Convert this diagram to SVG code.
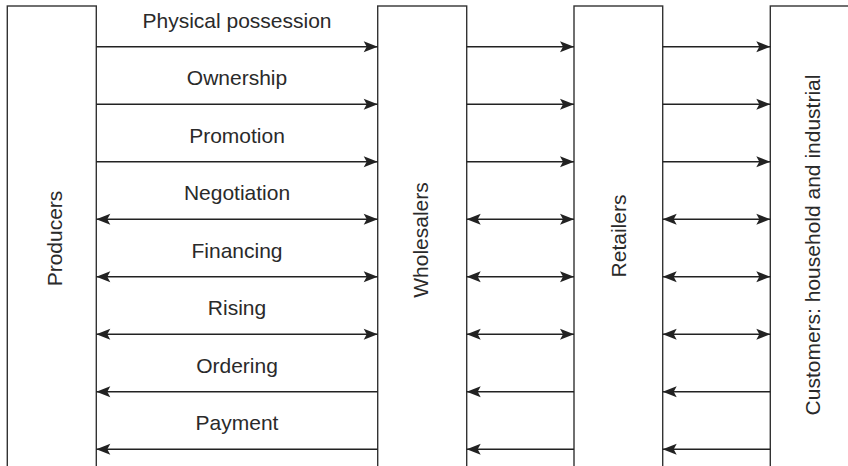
<svg xmlns="http://www.w3.org/2000/svg" width="848" height="466" viewBox="0 0 848 466">
<style>
.box{fill:#fff;stroke:#333;stroke-width:1.4}
.ln{stroke:#222;stroke-width:1.4;fill:none}
.r{marker-end:url(#ah)}
.b{marker-start:url(#ah);marker-end:url(#ah)}
.lbl{font-family:"Liberation Sans",Arial,sans-serif;font-size:21px;fill:#2a2a2a;text-anchor:middle}
</style>
<defs>
<marker id="ah" markerUnits="userSpaceOnUse" viewBox="-15 -6 16 12" refX="0" refY="0" markerWidth="16" markerHeight="12" orient="auto-start-reverse">
<path d="M0,0 L-14,-5.5 L-11,0 L-14,5.5 Z" fill="#222"/>
</marker>
</defs>
<rect width="848" height="466" fill="#fff"/>
<g id="producers">
<rect class="box" x="7.3" y="6" width="89" height="470"/>
<text class="lbl" transform="translate(61.5,238.5) rotate(-90)">Producers</text>
</g>
<g id="wholesalers">
<rect class="box" x="377.7" y="6" width="89" height="470"/>
<text class="lbl" transform="translate(428,240) rotate(-90)">Wholesalers</text>
</g>
<g id="retailers">
<rect class="box" x="574" y="6" width="88.7" height="470"/>
<text class="lbl" transform="translate(626,236) rotate(-90)">Retailers</text>
</g>
<g id="customers">
<rect class="box" x="770.3" y="6" width="100" height="470"/>
<text class="lbl" transform="translate(820,245) rotate(-90)">Customers: household and industrial</text>
</g>
<g id="connectors">
<path class="ln r" d="M96.3,46.7H377.7"/><path class="ln r" d="M466.7,46.7H574"/><path class="ln r" d="M662.7,46.7H770.3"/>
<path class="ln r" d="M96.3,104.2H377.7"/><path class="ln r" d="M466.7,104.2H574"/><path class="ln r" d="M662.7,104.2H770.3"/>
<path class="ln r" d="M96.3,161.7H377.7"/><path class="ln r" d="M466.7,161.7H574"/><path class="ln r" d="M662.7,161.7H770.3"/>
<path class="ln b" d="M96.3,219.2H377.7"/><path class="ln b" d="M466.7,219.2H574"/><path class="ln b" d="M662.7,219.2H770.3"/>
<path class="ln b" d="M96.3,276.7H377.7"/><path class="ln b" d="M466.7,276.7H574"/><path class="ln b" d="M662.7,276.7H770.3"/>
<path class="ln b" d="M96.3,334.2H377.7"/><path class="ln b" d="M466.7,334.2H574"/><path class="ln b" d="M662.7,334.2H770.3"/>
<path class="ln r" d="M377.7,391.7H96.3"/><path class="ln r" d="M574,391.7H466.7"/><path class="ln r" d="M770.3,391.7H662.7"/>
<path class="ln r" d="M377.7,449.2H96.3"/><path class="ln r" d="M574,449.2H466.7"/><path class="ln r" d="M770.3,449.2H662.7"/>
</g>
<g id="labels">
<text class="lbl" x="237" y="27.5">Physical possession</text>
<text class="lbl" x="237" y="85">Ownership</text>
<text class="lbl" x="237" y="142.5">Promotion</text>
<text class="lbl" x="237" y="200">Negotiation</text>
<text class="lbl" x="237" y="257.5">Financing</text>
<text class="lbl" x="237" y="315">Rising</text>
<text class="lbl" x="237" y="372.5">Ordering</text>
<text class="lbl" x="237" y="430">Payment</text>
</g>
</svg>
